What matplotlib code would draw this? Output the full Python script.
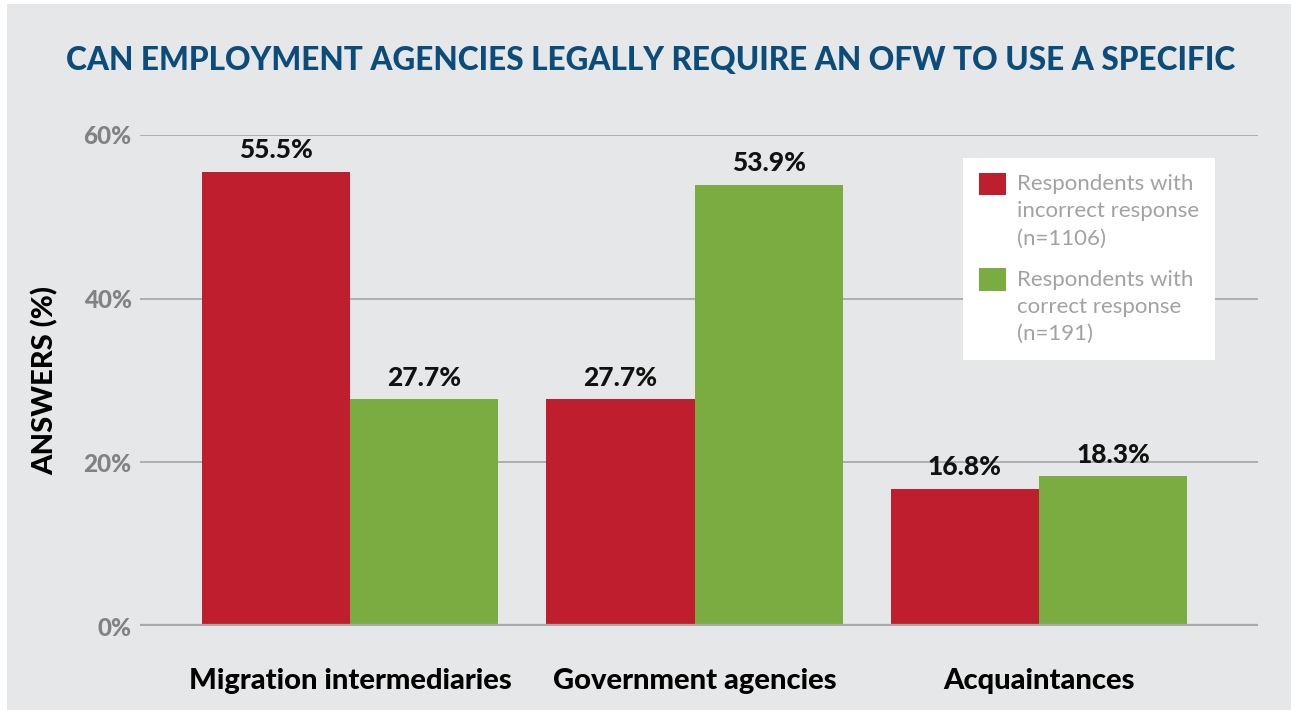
import matplotlib.pyplot as plt
import numpy as np
from matplotlib.patches import Rectangle
from matplotlib.container import BarContainer
from matplotlib.legend_handler import HandlerPatch, update_from_first_child

# --- Chart data ---
categories = ['Migration intermediaries', 'Government agencies', 'Acquaintances']
incorrect = [55.5, 27.7, 16.8]
correct = [27.7, 53.9, 18.3]
series_labels = ['Respondents with\nincorrect response\n(n=1106)',
                 'Respondents with\ncorrect response\n(n=191)']
y_ticks = [0, 20, 40, 60]
title = 'CAN EMPLOYMENT AGENCIES LEGALLY REQUIRE AN OFW TO USE A SPECIFIC'

# --- Styling ---
BG = '#E6E7E8'
RED = '#BE1E2D'
GREEN = '#7AAC42'
GRID = '#A7A9AC'
TICK_GREY = '#808285'
TITLE_BLUE = '#0B4C7A'
FONT = ['Lato', 'DejaVu Sans']
LEG_FS = 16
LEG_LINESPACING = 1.45
LINE_STEP = 1.25  # one text line of the legend, in units of fontsize

plt.rcParams['font.family'] = FONT

fig = plt.figure(figsize=(12.91, 7.10), dpi=100, facecolor='white')
fig.patches.append(Rectangle((7 / 1291, 0), 1, 1 - 4 / 710, transform=fig.transFigure,
                             facecolor=BG, edgecolor='none', zorder=-10))

ax = fig.add_axes([140 / 1291, 1 - 626 / 710, 1118 / 1291, 491 / 710])
ax.set_facecolor(BG)

x = np.arange(len(categories))
w = 0.43
bars_red = ax.bar(x - w / 2, incorrect, width=w, color=RED, label=series_labels[0], zorder=3)
bars_green = ax.bar(x + w / 2, correct, width=w, color=GREEN, label=series_labels[1], zorder=3)

for bars in (bars_red, bars_green):
    ax.bar_label(bars, fmt='%.1f%%', padding=7, fontsize=19, fontweight='black',
                 color='#111111', clip_on=False)

ax.set_xlim(-0.61, 2.636)
ax.set_ylim(0, 60)

# gridlines and thick baseline
for t in y_ticks[1:]:
    ax.axhline(t, color=GRID, linewidth=1.3, zorder=1)
ax.axhline(0, color=GRID, linewidth=3.8, zorder=4)

for s in ax.spines.values():
    s.set_visible(False)

ax.set_yticks(y_ticks)
ax.set_yticklabels([f'{t}%' for t in y_ticks])
ax.tick_params(axis='y', length=0, pad=6, labelsize=17.5, labelcolor=TICK_GREY)
for lbl in ax.get_yticklabels():
    lbl.set_fontweight('black')

ax.set_xticks(x)
ax.set_xticklabels(categories)
ax.tick_params(axis='x', length=0, pad=30, labelsize=21)
for lbl in ax.get_xticklabels():
    lbl.set_fontweight('black')

ax.set_ylabel('ANSWERS (%)', fontsize=21, fontweight='black', labelpad=18)


# legend square sits on the first text line, not the middle one
def square_on_first_line(legend, orig_handle, xdescent, ydescent, width, height, fontsize):
    return Rectangle((-xdescent, -ydescent + LINE_STEP * fontsize), width, height)


leg = ax.legend(loc='upper left', bbox_to_anchor=(0.736, 0.953), borderaxespad=0,
                frameon=True, fancybox=False, framealpha=1, edgecolor='none',
                facecolor='white', fontsize=LEG_FS, handlelength=1.2, handleheight=1.2,
                handletextpad=0.5, labelspacing=0.95, borderpad=0.72,
                handler_map={BarContainer: HandlerPatch(patch_func=square_on_first_line,
                                                        update_func=update_from_first_child)})
for txt in leg.get_texts():
    txt.set_color('#A0A2A5')
    txt.set_linespacing(LEG_LINESPACING)

fig.text(0.504, 1 - 60 / 710, title, ha='center', va='center', fontsize=22.7,
         fontweight='black', color=TITLE_BLUE)

fig.savefig('out.png', dpi=100, facecolor=fig.get_facecolor())
